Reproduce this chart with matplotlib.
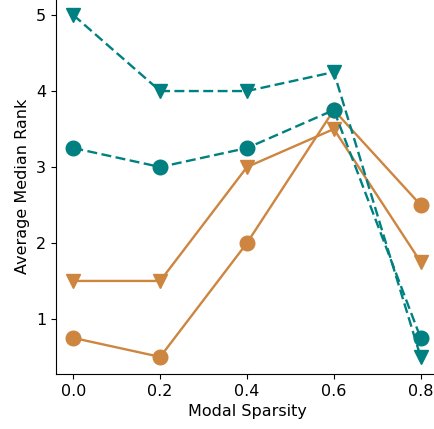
import matplotlib
matplotlib.use("Agg")
import matplotlib.pyplot as plt

# Data
sparsity = [0.0, 0.2, 0.4, 0.6, 0.8]
orange_circle = [0.75, 0.5, 2.0, 3.75, 2.5]
orange_tri = [1.5, 1.5, 3.0, 3.5, 1.75]
teal_circle = [3.25, 3.0, 3.25, 3.75, 0.75]
teal_tri = [5.0, 4.0, 4.0, 4.25, 0.5]

ORANGE = "#CD853F"
TEAL = "#008080"

plt.rcParams["font.size"] = 11.5

fig = plt.figure(figsize=(4.35, 4.29), dpi=100)
ax = fig.add_axes([56 / 435, 55 / 429, 382 / 435, 376 / 429])

ax.plot(sparsity, orange_circle, color=ORANGE, marker="o", markersize=10.5, linewidth=1.7)
ax.plot(sparsity, orange_tri, color=ORANGE, marker="v", markersize=10.5, linewidth=1.7)
ax.plot(sparsity, teal_circle, color=TEAL, marker="o", markersize=10.5, linewidth=1.7,
        linestyle="--", dashes=(4.2, 1.9))
ax.plot(sparsity, teal_tri, color=TEAL, marker="v", markersize=10.5, linewidth=1.7,
        linestyle="--", dashes=(4.2, 1.9))

ax.set_xticks(sparsity)
ax.set_yticks([1, 2, 3, 4, 5])
ax.set_xlabel("Modal Sparsity")
ax.set_ylabel("Average Median Rank")
ax.spines["top"].set_visible(False)
ax.spines["right"].set_visible(False)

fig.savefig("out.png", dpi=100)
